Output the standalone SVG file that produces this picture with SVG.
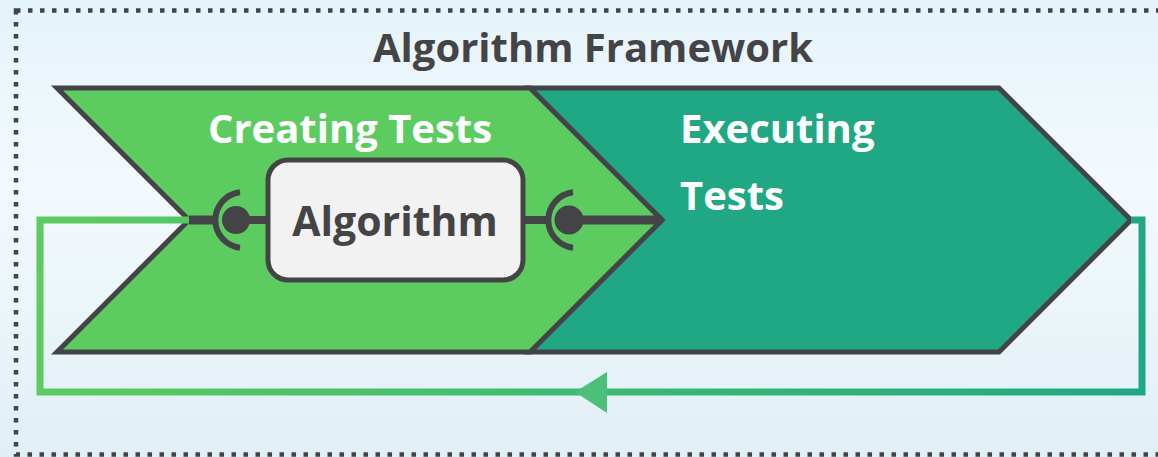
<svg xmlns="http://www.w3.org/2000/svg" width="1158" height="457" viewBox="0 0 1158 457">
<defs>
<linearGradient id="bg" x1="0" y1="0" x2="0" y2="1">
<stop offset="0" stop-color="#e4f3fa"/>
<stop offset="0.4" stop-color="#f4fafd"/>
<stop offset="1" stop-color="#e0eff6"/>
</linearGradient>
<linearGradient id="loop" gradientUnits="userSpaceOnUse" x1="40" y1="0" x2="1142" y2="0">
<stop offset="0" stop-color="#5ccb60"/>
<stop offset="1" stop-color="#20a884"/>
</linearGradient>
<style>
.t{font-family:"Open Sans","Noto Sans",sans-serif;font-weight:bold}
.dark{stroke:#444447;stroke-linejoin:miter}
</style>
</defs>
<rect width="1158" height="457" fill="url(#bg)"/>
<rect x="16" y="10.5" width="1160" height="444" fill="none" stroke="#444447" stroke-width="4.5" stroke-dasharray="4.5 7.5"/>
<text class="t" x="593" y="62" text-anchor="middle" font-size="40" fill="#444447">Algorithm Framework</text>
<g id="executing-tests">
<polygon points="530,88 999,88 1131,220 999,352 530,352 662,220" fill="#20a884" class="dark" stroke-width="5"/>
<text class="t" x="680" y="143" font-size="40" fill="#ffffff">Executing</text>
<text class="t" x="680" y="210" font-size="40" fill="#ffffff">Tests</text>
</g>
<g id="creating-tests">
<polygon points="57,88 530,88 662,220 530,352 57,352 189,220" fill="#5ccb60" class="dark" stroke-width="5"/>
<text class="t" x="350" y="143" text-anchor="middle" font-size="40" fill="#ffffff">Creating Tests</text>
</g>
<g id="connectors">
<path d="M189 220 H40 V392 H1142 V220 H1131" fill="none" stroke="url(#loop)" stroke-width="7" stroke-linejoin="miter"/>
<polygon points="575,392 607,372 607,413" fill="#4cbf78"/>
<line x1="189" y1="220" x2="215" y2="220" stroke="#444447" stroke-width="9"/>
<line x1="236" y1="220" x2="270" y2="220" stroke="#444447" stroke-width="8"/>
<path d="M240 192.2 A28 28 0 0 0 240 247.8" fill="none" stroke="#444447" stroke-width="6"/>
<circle cx="236" cy="220" r="14" fill="#444447"/>
<line x1="522" y1="220" x2="548" y2="220" stroke="#444447" stroke-width="8"/>
<line x1="569" y1="220" x2="662" y2="220" stroke="#444447" stroke-width="9"/>
<path d="M573 192.2 A28 28 0 0 0 573 247.8" fill="none" stroke="#444447" stroke-width="6"/>
<circle cx="569" cy="220" r="14.5" fill="#444447"/>
</g>
<g id="algorithm">
<rect x="268" y="160" width="255" height="120" rx="20" fill="#f2f2f2" class="dark" stroke-width="5"/>
<text class="t" x="395" y="236" text-anchor="middle" font-size="41" fill="#444447">Algorithm</text>
</g>
</svg>
